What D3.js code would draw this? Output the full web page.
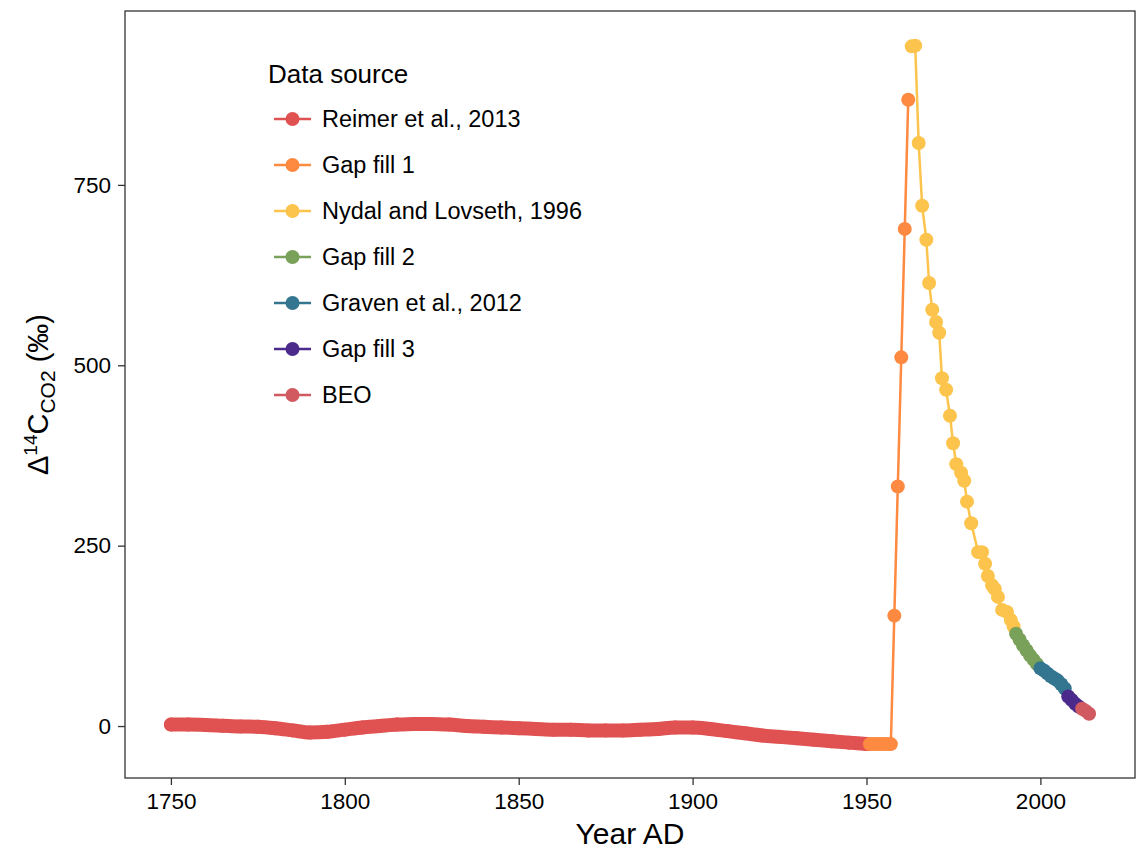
<!DOCTYPE html>
<html lang="en">
<head>
  <meta charset="UTF-8">
  <title>radiocarbon</title>
  <script src="https://cdn.jsdelivr.net/npm/d3@7"></script>
  <style>
    body { margin: 0; background: #fff; }
    text { font-family: "Liberation Sans", Arial, sans-serif; fill: #000; }
    .axis text { font-size: 22.5px; fill: #000; }
    .axis path { display: none; }
    .axis line { stroke: #333; stroke-width: 1.3; }
  </style>
</head>
<body>
<script>
// values (per mil)
let reimerYears = [1750, 1755, 1760, 1765, 1770, 1775, 1780, 1785, 1790, 1795, 1800,
  1805, 1810, 1815, 1820, 1825, 1830, 1835, 1840, 1845, 1850, 1855, 1860, 1865, 1870,
  1875, 1880, 1885, 1890, 1895, 1900, 1905, 1910, 1915, 1920, 1925, 1930, 1935, 1940,
  1945, 1950];
let reimerValues = [2, 2, 1.5, 0.5, -0.5, -1, -3, -6, -9, -8, -5,
  -2, 0, 2, 3, 3, 2, 0, -1, -2, -3, -4, -5, -5, -6,
  -6, -6, -5, -4, -2, -2, -4, -7, -10, -13, -15, -17, -19, -21,
  -23, -25];

let gap1Years = [1951, 1952, 1953, 1954, 1955, 1956, 1957, 1958, 1959, 1960, 1961, 1962];
let gap1Values = [-25, -25, -25, -25, -25, -25, -25, 153, 332, 511, 689, 868];

let nydalYears = [1963, 1964, 1965, 1966, 1967.2, 1968, 1968.9, 1970, 1970.9, 1971.7,
  1972.9, 1974, 1974.9, 1975.8, 1977.2, 1978.1, 1978.9, 1980.1, 1982.1, 1983.2, 1984.1,
  1984.9, 1986.1, 1986.9, 1987.8, 1989, 1990.4, 1991.5, 1992.3];
let nydalValues = [942, 943, 808, 721, 674, 614, 577, 560, 545, 482,
  466, 430, 392, 363, 351, 340, 311, 281, 241, 241, 225,
  208, 195, 190, 179, 161, 158, 147, 138];

let gap2Years = [1993, 1994, 1995, 1996, 1997, 1998, 1999];
let gap2Values = [128, 120, 112, 105, 98, 92, 86];

let gravenYears = [2000, 2001, 2002, 2003, 2004, 2005, 2006, 2007];
let gravenValues = [80, 77, 73, 69, 66, 63, 58, 52];

let gap3Years = [2008, 2009, 2010, 2011];
let gap3Values = [41, 36, 31, 27];

let beoYears = [2012, 2013, 2014];
let beoValues = [24, 21, 17];

let sourceNames = ['Reimer et al., 2013', 'Gap fill 1', 'Nydal and Lovseth, 1996',
  'Gap fill 2', 'Graven et al., 2012', 'Gap fill 3', 'BEO'];
let sourceColors = ['#e05151', '#fd8a40', '#fcc44c', '#79a15a', '#34758f', '#4b2a8c', '#d05a60'];

let xTicks = [1750, 1800, 1850, 1900, 1950, 2000];
let yTicks = [0, 250, 500, 750];

let width = 1139;
let height = 852;
let panel = {left: 125, right: 1135, top: 11, bottom: 778};
let r = 7;

let x = d3.scaleLinear()
  .domain([1736.8, 2027.2])
  .range([panel.left, panel.right]);
let y = d3.scaleLinear()
  .domain([-72, 991])
  .range([panel.bottom, panel.top]);

function pairs(years, values) {
  return years.map(function (yr, i) {
    return {x: yr, y: values[i]};
  });
}

let series = [
  pairs(reimerYears, reimerValues),
  pairs(gap1Years, gap1Values),
  pairs(nydalYears, nydalValues),
  pairs(gap2Years, gap2Values),
  pairs(gravenYears, gravenValues),
  pairs(gap3Years, gap3Values),
  pairs(beoYears, beoValues)
];

let line = d3.line()
  .x(function (d) { return x(d.x); })
  .y(function (d) { return y(d.y); });

let svg = d3.select('body').append('svg')
  .attr('width', width)
  .attr('height', height);

// lines layer
svg.append('g').selectAll('path')
  .data(series)
  .enter()
  .append('path')
  .attr('d', function (d, i) {
    return i === 0 ? line.curve(d3.curveMonotoneX)(d) : line.curve(d3.curveLinear)(d);
  })
  .attr('fill', 'none')
  .attr('stroke', function (d, i) { return sourceColors[i]; })
  .attr('stroke-linecap', 'round')
  .attr('stroke-linejoin', 'round')
  // annual points of the first record overlap into a solid band
  .attr('stroke-width', function (d, i) { return i === 0 ? 2 * r : 2.5; });

// points layer
let pts = svg.append('g');
series.forEach(function (s, i) {
  pts.selectAll(null)
    .data(s)
    .enter()
    .append('circle')
    .attr('cx', function (d) { return x(d.x); })
    .attr('cy', function (d) { return y(d.y); })
    .attr('r', r)
    .attr('fill', sourceColors[i]);
});

// panel border
svg.append('rect')
  .attr('x', panel.left)
  .attr('y', panel.top)
  .attr('width', panel.right - panel.left)
  .attr('height', panel.bottom - panel.top)
  .attr('fill', 'none')
  .attr('stroke', '#333')
  .attr('stroke-width', 1.3);

svg.append('g')
  .attr('class', 'axis')
  .attr('transform', 'translate(0,' + panel.bottom + ')')
  .call(d3.axisBottom(x).tickValues(xTicks).tickFormat(d3.format('d')).tickSize(7).tickPadding(8));

svg.append('g')
  .attr('class', 'axis')
  .attr('transform', 'translate(' + panel.left + ',0)')
  .call(d3.axisLeft(y).tickValues(yTicks).tickSize(7).tickPadding(7));

svg.append('text')
  .attr('x', (panel.left + panel.right) / 2)
  .attr('y', 844)
  .attr('text-anchor', 'middle')
  .style('font-size', '30px')
  .text('Year AD');

let yTitle = svg.append('text')
  .attr('transform', 'translate(48,' + (panel.top + panel.bottom) / 2 + ') rotate(-90)')
  .attr('text-anchor', 'middle')
  .style('font-size', '29px');
yTitle.append('tspan').text('\u0394');
yTitle.append('tspan').attr('dy', -11).style('font-size', '19px').text('14');
yTitle.append('tspan').attr('dy', 11).text('C');
yTitle.append('tspan').attr('dy', 7).style('font-size', '21px').text('CO2');
yTitle.append('tspan').attr('dy', -7).text(' (\u2030)');

// legend
let legend = svg.append('g');
legend.append('text')
  .attr('x', 268)
  .attr('y', 83)
  .style('font-size', '26px')
  .text('Data source');

let item = legend.selectAll('g.item')
  .data(sourceNames)
  .enter()
  .append('g')
  .attr('class', 'item')
  .attr('transform', function (d, i) { return 'translate(0,' + (119 + i * 46) + ')'; });

item.append('line')
  .attr('x1', 274)
  .attr('x2', 311)
  .attr('stroke', function (d, i) { return sourceColors[i]; })
  .attr('stroke-width', 2.5);
item.append('circle')
  .attr('cx', 292.5)
  .attr('r', r)
  .attr('fill', function (d, i) { return sourceColors[i]; });
item.append('text')
  .attr('x', 322)
  .attr('dy', '0.36em')
  .style('font-size', '23.5px')
  .text(function (d) { return d; });
</script>
</body>
</html>
